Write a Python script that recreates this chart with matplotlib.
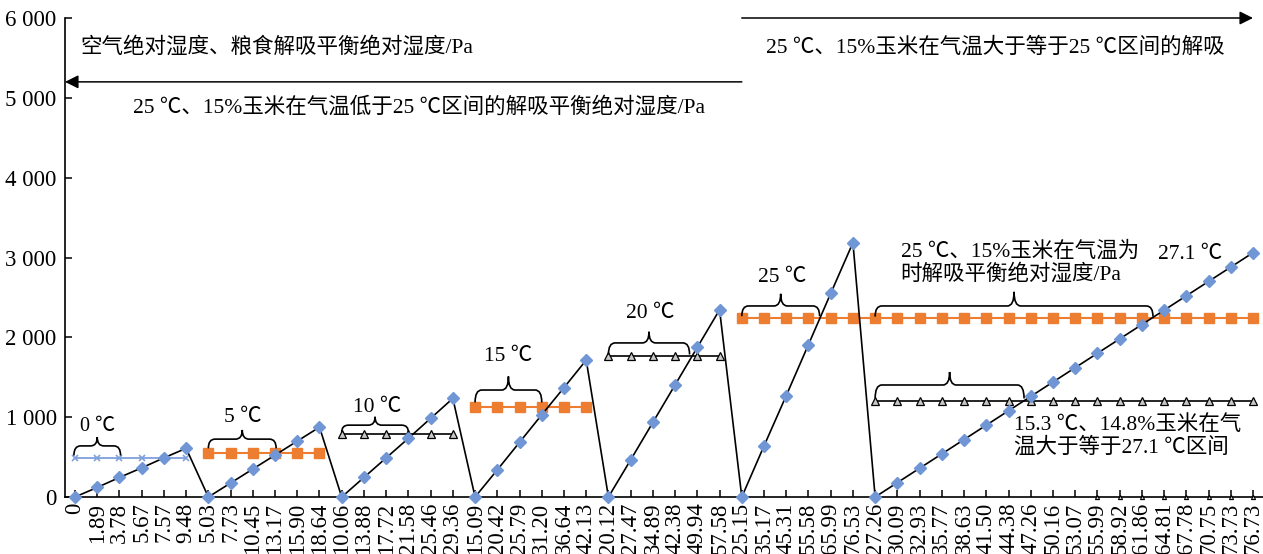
import matplotlib
matplotlib.use('Agg')
import matplotlib.pyplot as plt
import numpy as np
from matplotlib.patches import PathPatch
from matplotlib.path import Path
from matplotlib.ticker import FuncFormatter

plt.rcParams['font.family'] = ['Liberation Serif', 'Noto Sans CJK SC', 'DejaVu Sans']
plt.rcParams['font.size'] = 15.5

# air temperature categories (7 runs)
labels = ['0', '1.89', '3.78', '5.67', '7.57', '9.48',
          '5.03', '7.73', '10.45', '13.17', '15.90', '18.64',
          '10.06', '13.88', '17.72', '21.58', '25.46', '29.36',
          '15.09', '20.42', '25.79', '31.20', '36.64', '42.13',
          '20.12', '27.47', '34.89', '42.38', '49.94', '57.58',
          '25.15', '35.17', '45.31', '55.58', '65.99', '76.53',
          '27.26', '30.09', '32.93', '35.77', '38.63', '41.50', '44.38', '47.26', '50.16',
          '53.07', '55.99', '58.92', '61.86', '64.81', '67.78', '70.75', '73.73', '76.73']

# air absolute humidity, Pa
air_abs = [0, 120, 245, 365, 490, 610,
           0, 175, 350, 525, 700, 875,
           0, 245, 490, 735, 985, 1235,
           0, 340, 685, 1030, 1370, 1715,
           0, 465, 935, 1405, 1875, 2345,
           0, 640, 1270, 1910, 2550, 3185,
           0, 180, 360, 540, 720, 900, 1080, 1260, 1440,
           1620, 1800, 1980, 2160, 2340, 2520, 2700, 2880, 3060]

# desorption equilibrium absolute humidity of grain, Pa
eq_0 = [490] * 6
eq_5 = [545] * 6
eq_10 = [785] * 6
eq_15 = [1130] * 6
eq_20 = [1765] * 6
eq_25 = [2240] * 24
eq_153 = [1205] * 18
eq_tail = [0] * 8

x = np.arange(len(labels))

fig = plt.figure(figsize=(12.63, 5.54), dpi=100)
ax = fig.add_axes([65 / 1263, 57 / 554, 1198 / 1263, 479 / 554])

blue = '#7096d6'
orange = '#ed7d31'
tri = dict(color='black', lw=1.2, marker='^', ms=5.5, mfc='#c8c8c8', mec='black', mew=0.9, zorder=3)
sq = dict(color=orange, lw=1.5, marker='s', ms=6.5, zorder=3)

ax.plot(x[0:6], eq_0, color='#7fa0dc', lw=1.3, marker='x', ms=5, mew=1.2, zorder=3)
ax.plot(x[6:12], eq_5, **sq)
ax.plot(x[12:18], eq_10, **tri)
ax.plot(x[18:24], eq_15, **sq)
ax.plot(x[24:30], eq_20, **tri)
ax.plot(x[30:54], eq_25, **sq)
ax.plot(x[36:54], eq_153, **tri)
ax.plot(x[46:54], eq_tail, ls='none', marker='^', ms=3, mfc='#c8c8c8', mec='black', mew=0.8, clip_on=False, zorder=3)

ax.plot(x, air_abs, color='black', lw=1.2, zorder=4)
ax.plot(x, air_abs, ls='none', marker='D', ms=6, color=blue, mec=blue, clip_on=False, zorder=5)


def brace(x0, x1, yb, ym, yt, rx=0.3):
    xc = (x0 + x1) / 2
    verts = [(x0, yb), (x0, ym), (x0 + rx, ym),
             (xc - rx, ym), (xc, ym), (xc, yt),
             (xc, ym), (xc + rx, ym),
             (x1 - rx, ym), (x1, ym), (x1, yb)]
    codes = [Path.MOVETO, Path.CURVE3, Path.CURVE3,
             Path.LINETO, Path.CURVE3, Path.CURVE3,
             Path.CURVE3, Path.CURVE3,
             Path.LINETO, Path.CURVE3, Path.CURVE3]
    ax.add_patch(PathPatch(Path(verts, codes), fill=False, lw=1.2, ec='black', zorder=6))


brace(-0.05, 2.05, 520, 640, 750)
ax.text(1.0, 880, '0 ℃', ha='center', va='center', fontsize=14.5)
brace(6.0, 9.05, 610, 725, 840)
ax.text(7.55, 990, '5 ℃', ha='center', va='center')
brace(12.0, 15.0, 810, 900, 1005)
ax.text(13.6, 1120, '10 ℃', ha='center', va='center')
brace(18.0, 21.0, 1185, 1340, 1510)
ax.text(19.5, 1755, '15 ℃', ha='center', va='center')
brace(24.0, 27.65, 1785, 1930, 2070)
ax.text(25.9, 2295, '20 ℃', ha='center', va='center')
brace(30.0, 33.5, 2265, 2393, 2545)
ax.text(31.8, 2745, '25 ℃', ha='center', va='center')
brace(36.0, 48.5, 2260, 2393, 2570)
ax.text(37.15, 3070, '25 ℃、15%玉米在气温为', va='center')
ax.text(37.15, 2782, '时解吸平衡绝对湿度/Pa', va='center')
ax.text(48.74, 3033, '27.1 ℃', va='center')
brace(36.0, 42.7, 1235, 1403, 1566)
ax.text(42.25, 902, '15.3 ℃、14.8%玉米在气', va='center')
ax.text(42.25, 625, '温大于等于27.1 ℃区间', va='center')

ax.text(0.23, 5635, '空气绝对湿度、粮食解吸平衡绝对湿度/Pa', va='center')
ax.text(2.6, 4875, '25 ℃、15%玉米在气温低于25 ℃区间的解吸平衡绝对湿度/Pa', va='center')
ax.text(31.1, 5635, '25 ℃、15%玉米在气温大于等于25 ℃区间的解吸', va='center')

ax.annotate('', xy=(-0.45, 5200), xytext=(30.0, 5200),
            arrowprops=dict(arrowstyle='-|>', color='black', lw=1.1, mutation_scale=20, shrinkA=0, shrinkB=0),
            annotation_clip=False)
ax.annotate('', xy=(53.0, 6000), xytext=(30.0, 6000),
            arrowprops=dict(arrowstyle='-|>', color='black', lw=1.1, mutation_scale=20, shrinkA=0, shrinkB=0),
            annotation_clip=False)

ax.set_xlim(-0.45, 53.45)
ax.set_ylim(0, 6000)
ax.set_yticks(np.arange(0, 6001, 1000))
ax.yaxis.set_major_formatter(FuncFormatter(lambda v, p: f'{int(v):,}'.replace(',', ' ')))
ax.set_xticks(x)
ax.set_xticklabels(labels, rotation=90)
ax.tick_params(axis='both', direction='in', length=5, width=1.1, labelsize=16.5, colors='black')
ax.tick_params(axis='x', pad=4)
ax.tick_params(axis='y', pad=6)
for s in ['top', 'right']:
    ax.spines[s].set_visible(False)
for s in ['left', 'bottom']:
    ax.spines[s].set_linewidth(1.2)

fig.savefig('out.png', dpi=100)
